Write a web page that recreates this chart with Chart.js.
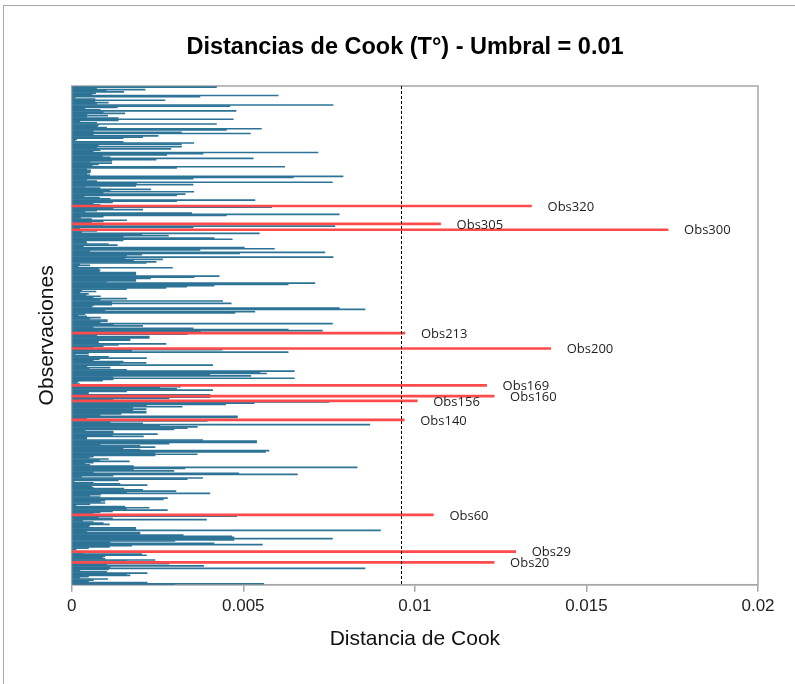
<!DOCTYPE html>
<html>
<head>
<meta charset="utf-8">
<script src="https://cdn.jsdelivr.net/npm/chart.js@4.4.1/dist/chart.umd.min.js"></script>
<style>
  html, body { margin: 0; padding: 0; background: #fff; overflow: hidden; }
  #frame {
    position: absolute; left: 3px; top: 5px; width: 900px; height: 900px;
    border-left: 1.5px solid #a8a8a8; border-top: 1.5px solid #a8a8a8;
  }
  #cook { position: absolute; left: 0; top: 0; }
</style>
</head>
<body>
<div id="frame"></div>
<canvas id="cook" width="795" height="684"></canvas>
<script>
// Cook's distance per observation, listed from the top row (Obs420) down to Obs1
const nObs = 420;
const cookD = [
  0.00422, 0.00073, 0.00214, 0.00100, 0.00152, 0.00070, 0.00060, 0.00602, 0.00374, 0.00010,
  0.00068, 0.00272, 0.00068, 0.00107, 0.00073, 0.00762, 0.00461, 0.00133, 0.00039, 0.00083,
  0.00479, 0.00092, 0.00155, 0.00044, 0.00105, 0.00044, 0.00136, 0.00471, 0.00136, 0.00024,
  0.00073, 0.00422, 0.00078, 0.00075, 0.00102, 0.00553, 0.00451, 0.00063, 0.00320, 0.00521,
  0.00063, 0.00252, 0.00207, 0.00150, 0.00015, 0.00010, 0.00150, 0.00356, 0.00320, 0.00078,
  0.00320, 0.00073, 0.00289, 0.00083, 0.00063, 0.00718, 0.00383, 0.00277, 0.00090, 0.00112,
  0.00529, 0.00246, 0.00117, 0.00053, 0.00117, 0.00078, 0.00060, 0.00621, 0.00306, 0.00044,
  0.00055, 0.00055, 0.00053, 0.00044, 0.00053, 0.00791, 0.00646, 0.00354, 0.00044, 0.00073,
  0.00760, 0.00189, 0.00354, 0.00187, 0.00039, 0.00083, 0.00230, 0.00112, 0.00356, 0.00092,
  0.00331, 0.00306, 0.00036, 0.00081, 0.00112, 0.00534, 0.00306, 0.00119, 0.00063, 0.00083,
  0.00050, 0.00583, 0.00121, 0.00207, 0.00073, 0.00039, 0.00350, 0.00780, 0.00451, 0.00092,
  0.00026, 0.00058, 0.00160, 0.00092, 0.00058, 0.00050, 0.00092, 0.00767, 0.00354, 0.00024,
  0.00050, 0.00073, 0.00029, 0.00547, 0.00204, 0.00282, 0.00150, 0.00415, 0.00468, 0.00150,
  0.00042, 0.00044, 0.00107, 0.00133, 0.00034, 0.00503, 0.00591, 0.00374, 0.00053, 0.00738,
  0.00490, 0.00204, 0.00160, 0.00762, 0.00155, 0.00265, 0.00180, 0.00246, 0.00217, 0.00024,
  0.00053, 0.00019, 0.00294, 0.00078, 0.00083, 0.00081, 0.00187, 0.00187, 0.00187, 0.00430,
  0.00357, 0.00230, 0.00187, 0.00187, 0.00102, 0.00709, 0.00631, 0.00415, 0.00335, 0.00275,
  0.00160, 0.00029, 0.00071, 0.00024, 0.00049, 0.00042, 0.00084, 0.00063, 0.00160, 0.00083,
  0.00440, 0.00117, 0.00465, 0.00117, 0.00063, 0.00058, 0.00780, 0.00855, 0.00097, 0.00534,
  0.00476, 0.00039, 0.00019, 0.00044, 0.00084, 0.00053, 0.00104, 0.00104, 0.00083, 0.00760,
  0.00121, 0.00207, 0.00063, 0.00354, 0.00631, 0.00731, 0.00376, 0.00050, 0.00337, 0.00073,
  0.00226, 0.00226, 0.00170, 0.00170, 0.00078, 0.00078, 0.00275, 0.00136, 0.00092, 0.00063,
  0.00050, 0.00439, 0.00175, 0.00631, 0.00049, 0.00010, 0.00049, 0.00107, 0.00218, 0.00081,
  0.00063, 0.00150, 0.00217, 0.00141, 0.00411, 0.00044, 0.00112, 0.00051, 0.00160, 0.00649,
  0.00549, 0.00568, 0.00403, 0.00522, 0.00121, 0.00649, 0.00121, 0.00090, 0.00019, 0.00015,
  0.00024, 0.00050, 0.00317, 0.00257, 0.00306, 0.00411, 0.00160, 0.00049, 0.00049, 0.00403,
  0.00050, 0.00403, 0.00284, 0.00120, 0.00050, 0.00750, 0.00532, 0.00449, 0.00218, 0.00322,
  0.00178, 0.00217, 0.00178, 0.00217, 0.00217, 0.00144, 0.00083, 0.00483, 0.00483, 0.00044,
  0.00050, 0.00395, 0.00112, 0.00207, 0.00869, 0.00257, 0.00366, 0.00337, 0.00298, 0.00039,
  0.00121, 0.00121, 0.00250, 0.00119, 0.00209, 0.00044, 0.00044, 0.00382, 0.00539, 0.00539,
  0.00284, 0.00083, 0.00199, 0.00243, 0.00150, 0.00199, 0.00575, 0.00565, 0.00243, 0.00366,
  0.00243, 0.00063, 0.00051, 0.00107, 0.00081, 0.00168, 0.00063, 0.00039, 0.00053, 0.00180,
  0.00832, 0.00330, 0.00180, 0.00298, 0.00063, 0.00487, 0.00658, 0.00121, 0.00029, 0.00382,
  0.00337, 0.00136, 0.00007, 0.00063, 0.00141, 0.00220, 0.00058, 0.00063, 0.00152, 0.00207,
  0.00304, 0.00160, 0.00403, 0.00084, 0.00053, 0.00083, 0.00279, 0.00267, 0.00097, 0.00084,
  0.00097, 0.00053, 0.00013, 0.00155, 0.00226, 0.00160, 0.00279, 0.00119, 0.00083, 0.00063,
  0.00050, 0.00481, 0.00078, 0.00119, 0.00393, 0.00032, 0.00063, 0.00092, 0.00110, 0.00053,
  0.00049, 0.00187, 0.00187, 0.00900, 0.00044, 0.00199, 0.00199, 0.00325, 0.00466, 0.00473,
  0.00760, 0.00473, 0.00301, 0.00112, 0.00415, 0.00556, 0.00175, 0.00110, 0.00049, 0.00013,
  0.00005, 0.00050, 0.00034, 0.00204, 0.00218, 0.00097, 0.00090, 0.00097, 0.00243, 0.00160,
  0.00050, 0.00284, 0.00102, 0.00385, 0.00112, 0.00855, 0.00107, 0.00024, 0.00102, 0.00220,
  0.00160, 0.00170, 0.00049, 0.00024, 0.00105, 0.00063, 0.00049, 0.00220, 0.00560, 0.00301
];

// observations above the threshold, drawn in red and labelled
const flaggedObs = [320, 305, 300, 213, 200, 169, 160, 156, 140, 60, 29, 20];
const flaggedD = [0.0134, 0.01075, 0.01738, 0.00971, 0.01396, 0.01209, 0.01231, 0.01007, 0.00969, 0.01054, 0.01294, 0.01231];

const umbral = 0.0096;
const xTickLabels = ['0', '0.005', '0.01', '0.015', '0.02'];
const titleText = 'Distancias de Cook (T°) - Umbral = 0.01';

const blueColor = '#2d7396';
const redColor = '#ff4b4b';
const frameColor = '#a6a6a6';

const cookPlugin = {
  id: 'cookPlugin',
  beforeDatasetsDraw(chart) {
    const { ctx, chartArea: a } = chart;
    ctx.save();
    ctx.strokeStyle = frameColor;
    ctx.lineWidth = 1.5;
    ctx.strokeRect(a.left, a.top, a.right - a.left, a.bottom - a.top);
    ctx.restore();
  },
  afterDatasetsDraw(chart) {
    const { ctx, chartArea: a, scales } = chart;
    const xu = Math.round(scales.x.getPixelForValue(umbral)) + 0.5;

    // threshold line
    ctx.save();
    ctx.strokeStyle = '#000';
    ctx.lineWidth = 1;
    ctx.setLineDash([3, 2]);
    ctx.beginPath();
    ctx.moveTo(xu, a.top);
    ctx.lineTo(xu, a.bottom);
    ctx.stroke();
    ctx.setLineDash([]);

    // labels at the end of the red bars
    ctx.font = '13px "Open Sans"';
    ctx.fillStyle = '#1e1e1e';
    ctx.textBaseline = 'middle';
    ctx.textAlign = 'left';
    flaggedObs.forEach((obs, i) => {
      const px = scales.x.getPixelForValue(flaggedD[i]) + 16;
      const py = scales.y.getPixelForValue(obs) + 1;
      ctx.fillText('Obs' + obs, px, py);
    });

    // chart title
    ctx.font = 'bold 23.5px "Liberation Sans"';
    ctx.fillStyle = '#000';
    ctx.textAlign = 'center';
    ctx.textBaseline = 'alphabetic';
    ctx.fillText(titleText, 405, 54);
    ctx.restore();
  }
};

const ctx = document.getElementById('cook').getContext('2d');

new Chart(ctx, {
  type: 'bar',
  data: {
    datasets: [
      {
        label: 'Cook',
        data: cookD.map((v, i) => ({ x: v, y: nObs - i })),
        backgroundColor: blueColor,
        barPercentage: 1,
        categoryPercentage: 1,
        inflateAmount: 0.25,
        grouped: false,
        order: 2,
      },
      {
        label: 'Sobre umbral',
        data: flaggedObs.map((obs, i) => ({ x: flaggedD[i], y: obs })),
        backgroundColor: redColor,
        barThickness: 2,
        grouped: false,
        order: 1,
      },
    ],
  },
  options: {
    indexAxis: 'y',
    responsive: false,
    animation: false,
    devicePixelRatio: 1,
    layout: { padding: { left: 0, right: 37, top: 86, bottom: 0 } },
    plugins: {
      legend: { display: false },
      tooltip: { enabled: false },
      title: { display: false },
    },
    scales: {
      x: {
        type: 'linear',
        min: 0,
        max: 0.02,
        ticks: {
          stepSize: 0.005,
          maxRotation: 0,
          padding: 4,
          color: '#222',
          font: { family: 'Liberation Sans', size: 17 },
          callback: (v) => xTickLabels[Math.round(v / 0.005)],
        },
        grid: { drawOnChartArea: false, drawTicks: true, tickLength: 7, color: frameColor, lineWidth: 1.5 },
        border: { display: true, color: frameColor, width: 1.5 },
        title: {
          display: true,
          text: 'Distancia de Cook',
          color: '#111',
          font: { family: 'Liberation Sans', size: 21 },
          padding: { top: 0, bottom: 32 },
        },
        afterFit: (scale) => { scale.height = 99.3; },
      },
      y: {
        type: 'linear',
        offset: false,
        min: 1.2,
        max: 421,
        ticks: { display: false },
        grid: { display: false, offset: false },
        border: { display: false },
        title: {
          display: true,
          text: 'Observaciones',
          color: '#111',
          font: { family: 'Liberation Sans', size: 21 },
          padding: { top: 35, bottom: 0 },
        },
        afterFit: (scale) => { scale.width = 71.7; },
      },
    },
  },
  plugins: [cookPlugin],
});
</script>
</body>
</html>
